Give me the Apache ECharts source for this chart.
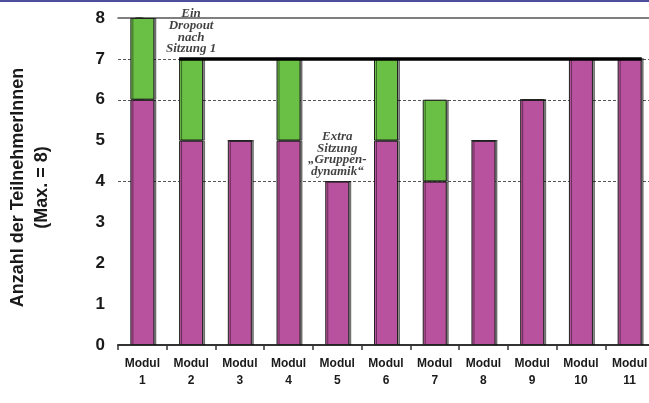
<!DOCTYPE html>
<html>
<head>
<meta charset="utf-8">
<script src="https://cdn.jsdelivr.net/npm/echarts@6/dist/echarts.min.js"></script>
<style>
  html, body { margin: 0; padding: 0; background: #ffffff; }
  #chart { width: 649px; height: 403px; }
</style>
</head>
<body>
<div id="chart"></div>
<script>
// Module categories (two-line labels)
const modules = ['Modul\n1', 'Modul\n2', 'Modul\n3', 'Modul\n4', 'Modul\n5', 'Modul\n6',
                 'Modul\n7', 'Modul\n8', 'Modul\n9', 'Modul\n10', 'Modul\n11'];
// Participants present (magenta) and additional participants (green)
const present = [6, 5, 5, 5, 4, 5, 4, 5, 6, 7, 7];
const extra   = [2, 2, 0, 2, 0, 2, 2, 0, 0, 0, 0];
// Y ticks
const yTicks = [0, 1, 2, 3, 4, 5, 6, 7, 8];
// Dotted reference lines drawn at these values
const dottedAt = [4, 6, 7];
// Group size after the dropout: from Modul 2 to Modul 11 at 7
const groupLine = { from: 1, to: 10, value: 7 };
// Notes written above single bars
const notes = [
  { index: 1, text: 'Ein\nDropout\nnach\nSitzung 1' },
  { index: 4, text: 'Extra\nSitzung\n\u201EGruppen-\ndynamik\u201C' }
];

const gridLeft = 118;
const gridWidth = 536;
const barPx = 24;
const catPx = gridWidth / modules.length;
const halfBar = barPx / 2 / catPx;

const totals = present.map((v, i) => v + extra[i]);

const chart = echarts.init(document.getElementById('chart'), null, { renderer: 'canvas' });

chart.setOption({
  backgroundColor: '#ffffff',
  animation: false,
  graphic: [{
    type: 'rect', left: 0, top: 0, z: 100,
    shape: { width: 649, height: 2 },
    style: { fill: '#4b4f9d' }
  }],
  grid: {
    left: gridLeft, top: 18, width: gridWidth, bottom: 58,
    outerBoundsMode: 'none', containLabel: false
  },
  xAxis: [{
    type: 'category',
    data: modules,
    axisLine: { lineStyle: { color: '#333', width: 2 } },
    axisTick: { show: true, length: 5, lineStyle: { color: '#333', width: 1.5 } },
    axisLabel: {
      color: '#1a1a1a', fontFamily: 'Liberation Sans, Arial, sans-serif',
      fontWeight: 'bold', fontSize: 12, lineHeight: 17, margin: 10, interval: 0
    }
  }, {
    type: 'value',
    min: -0.5, max: modules.length - 0.5,
    position: 'top',
    axisLine: { show: true, onZero: false, lineStyle: { color: '#555', width: 1.5 } },
    axisTick: { show: false },
    axisLabel: { show: false },
    splitLine: { show: false }
  }],
  yAxis: {
    type: 'value',
    min: yTicks[0], max: yTicks[yTicks.length - 1], interval: 1,
    name: 'Anzahl der TeilnehmerInnen\n(Max. = 8)',
    nameLocation: 'middle',
    nameRotate: 90,
    nameGap: 64,
    nameTextStyle: {
      color: '#1a1a1a', fontFamily: 'Liberation Sans, Arial, sans-serif',
      fontWeight: 'bold', fontSize: 18, lineHeight: 24, padding: [0, 12, 0, 0]
    },
    axisLine: { show: true, lineStyle: { color: '#888', width: 2 } },
    axisTick: { show: true, length: 7, lineStyle: { color: '#333', width: 1.5 } },
    axisLabel: {
      color: '#1a1a1a', fontFamily: 'Liberation Sans, Arial, sans-serif',
      fontWeight: 'bold', fontSize: 17, margin: 13
    },
    splitLine: {
      show: true,
      lineStyle: {
        type: [3, 2], width: 1.2,
        color: yTicks.map(t => (dottedAt.includes(t) ? '#555' : 'rgba(0,0,0,0)'))
      }
    }
  },
  series: [{
    name: 'Teilnehmende',
    type: 'bar',
    stack: 'n',
    barWidth: barPx,
    data: present,
    itemStyle: {
      color: '#b9529e', borderColor: '#222', borderWidth: 1,
      shadowColor: 'rgba(0,0,0,0.45)', shadowOffsetX: 2, shadowOffsetY: 0, shadowBlur: 0
    }
  }, {
    name: 'Zusätzlich',
    type: 'bar',
    stack: 'n',
    barWidth: barPx,
    data: extra,
    itemStyle: {
      color: '#6abf45', borderColor: '#222', borderWidth: 1,
      shadowColor: 'rgba(0,0,0,0.45)', shadowOffsetX: 2, shadowOffsetY: 0, shadowBlur: 0
    }
  }, {
    name: 'Gruppengröße',
    type: 'line',
    xAxisIndex: 1,
    symbol: 'none',
    z: 5,
    lineStyle: { color: '#000', width: 3.5 },
    data: [[groupLine.from - halfBar, groupLine.value], [groupLine.to + halfBar, groupLine.value]]
  }, {
    name: 'Notiz',
    type: 'scatter',
    symbolSize: 0,
    z: 6,
    data: notes.map(n => ({
      value: [n.index, totals[n.index]],
      label: { formatter: n.text }
    })),
    label: {
      show: true, position: 'top', distance: 4,
      color: '#111', fontFamily: 'Liberation Serif, Times New Roman, serif',
      fontStyle: 'italic', fontWeight: 'bold', fontSize: 13, lineHeight: 11.7, align: 'center'
    }
  }]
});
</script>
</body>
</html>
